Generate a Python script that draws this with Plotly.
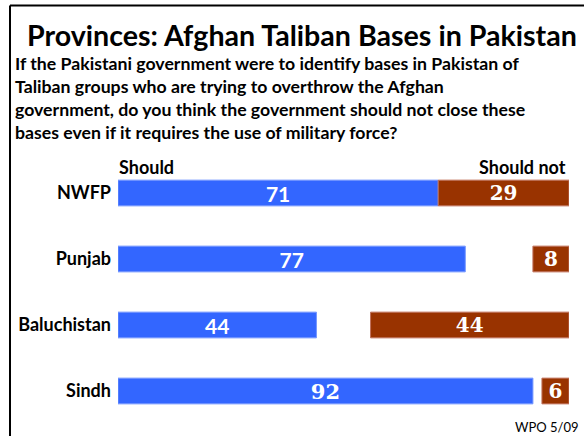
import plotly.graph_objects as go

provinces = ["NWFP", "Punjab", "Baluchistan", "Sindh"]
should = [71, 77, 44, 92]
should_not = [29, 8, 44, 6]

title = "Provinces: Afghan Taliban Bases in Pakistan"
question = ("If the Pakistani government were to identify bases in Pakistan of<br>"
            "Taliban groups who are trying to overthrow the Afghan<br>"
            "government, do you think the government should not close these<br>"
            "bases even if it requires the use of military force?")
source = "WPO 5/09"

BLUE = "#3366FF"
BROWN = "#993300"
SANS = "Lato"
SERIF = "DejaVu Serif"

# plot area in pixels
L, R, T, B = 118, 569, 160, 424


def px(x):
    return (x - L) / (R - L)


def py(y):
    return (B - y) / (B - T)


blue_fonts = [SANS, SANS, SANS, SERIF]
blue_text = [f'<span style="font-family:{f}">{v}</span>' for v, f in zip(should, blue_fonts)]

fig = go.Figure()
fig.add_trace(go.Bar(
    y=provinces, x=should, orientation="h", name="Should",
    marker=dict(color=BLUE, line=dict(color="#7396ff", width=1)),
    text=blue_text, textposition="inside", insidetextanchor="middle",
    textangle=0, constraintext="none",
    textfont=dict(color="white", size=21, family=SANS, weight="bold"),
    width=0.39, hoverinfo="skip",
))
fig.add_trace(go.Bar(
    y=provinces, x=should_not, base=[100 - v for v in should_not], orientation="h",
    name="Should not",
    marker=dict(color=BROWN, line=dict(color="#c0705a", width=1)),
    text=[str(v) for v in should_not], textposition="inside", insidetextanchor="middle",
    textangle=0, constraintext="none",
    textfont=dict(color="white", size=20, family=SERIF, weight="bold"),
    width=0.39, hoverinfo="skip",
))

fig.update_layout(
    width=584, height=436,
    margin=dict(l=L, r=584 - R, t=T, b=436 - B),
    paper_bgcolor="white", plot_bgcolor="white",
    showlegend=False, barmode="overlay",
    xaxis=dict(range=[0, 100], visible=False, fixedrange=True),
    yaxis=dict(range=[3.5, -0.5], showgrid=False, zeroline=False, ticks="",
               tickfont=dict(family=SANS, size=18, color="black", weight="bold"),
               ticklabelstandoff=6, showline=False, fixedrange=True),
    font=dict(family=SANS, color="black"),
    shapes=[
        dict(type="line", xref="paper", yref="paper", x0=px(10), x1=px(584),
             y0=py(5.5), y1=py(5.5), line=dict(color="black", width=2)),
        dict(type="line", xref="paper", yref="paper", x0=px(10), x1=px(10),
             y0=py(436), y1=py(5.5), line=dict(color="black", width=2)),
    ],
    annotations=[
        dict(text=f"<b>{title}</b>", xref="paper", yref="paper", x=px(302), y=py(35),
             xanchor="center", yanchor="middle", showarrow=False, font=dict(size=28.6, family=SANS)),
        dict(text=f"<b>{question}</b>", xref="paper", yref="paper", x=px(13), y=py(98),
             xanchor="left", yanchor="middle", align="left", showarrow=False,
             font=dict(size=17.7, family=SANS)),
        dict(text="<b>Should</b>", xref="paper", yref="paper", x=px(117), y=py(167),
             xanchor="left", yanchor="middle", showarrow=False, font=dict(size=18, family=SANS)),
        dict(text="<b>Should not</b>", xref="paper", yref="paper", x=px(568), y=py(167),
             xanchor="right", yanchor="middle", showarrow=False, font=dict(size=18, family=SANS)),
        dict(text=source, xref="paper", yref="paper", x=px(581), y=py(427),
             xanchor="right", yanchor="middle", showarrow=False, font=dict(size=13, family=SANS)),
    ],
)

fig.write_html("out.html", config={"displayModeBar": False},
               post_script="document.body.style.margin='0';")
